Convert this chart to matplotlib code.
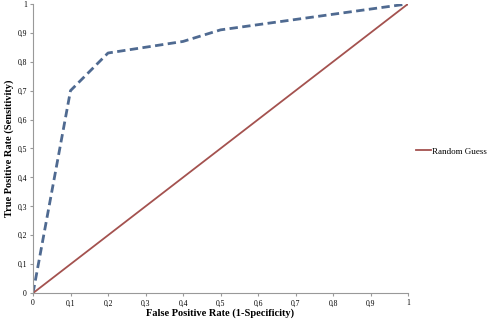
import numpy as np
import matplotlib.pyplot as plt
from matplotlib.ticker import FuncFormatter

# ROC curve values
fpr = [0, 0.1, 0.2, 0.4, 0.5, 1.0]
tpr = [0, 0.70, 0.83, 0.87, 0.91, 1.0]
guess = [0, 1]

plt.rcParams['font.family'] = ['Liberation Serif', 'DejaVu Serif']

fig = plt.figure(figsize=(4.89, 3.2), dpi=100)
ax = fig.add_axes([0.0675, 0.084, 0.767, 0.904])

ax.plot(fpr, tpr, color='#4f6a91', linewidth=2.0, linestyle=(0, (3, 1.6)))
ax.plot(guess, guess, color='#a4524f', linewidth=1.3, label='Random Guess')

ax.set_xlim(0, 1)
ax.set_ylim(0, 1)
ticks = np.round(np.arange(0, 1.01, 0.1), 1)
ax.set_xticks(ticks)
ax.set_yticks(ticks)
fmt = FuncFormatter(lambda v, p: ('%g' % v).replace('.', ','))
ax.xaxis.set_major_formatter(fmt)
ax.yaxis.set_major_formatter(fmt)
ax.tick_params(labelsize=5.5, length=2.5, color='#999999', pad=2)

for s in ['top', 'right']:
    ax.spines[s].set_visible(False)
for s in ['left', 'bottom']:
    ax.spines[s].set_color('#999999')
    ax.spines[s].set_linewidth(0.8)

ax.set_xlabel('False Positive Rate (1-Specificity)', fontsize=7.5, fontweight='bold', labelpad=1)
ax.set_ylabel('True Positive Rate (Sensitivity)', fontsize=7.5, fontweight='bold', labelpad=2)

ax.legend(loc='center left', bbox_to_anchor=(1.0, 0.49), frameon=False, fontsize=6.5,
          handlelength=1.6, handletextpad=0.1)

fig.savefig('out.png', dpi=100)
